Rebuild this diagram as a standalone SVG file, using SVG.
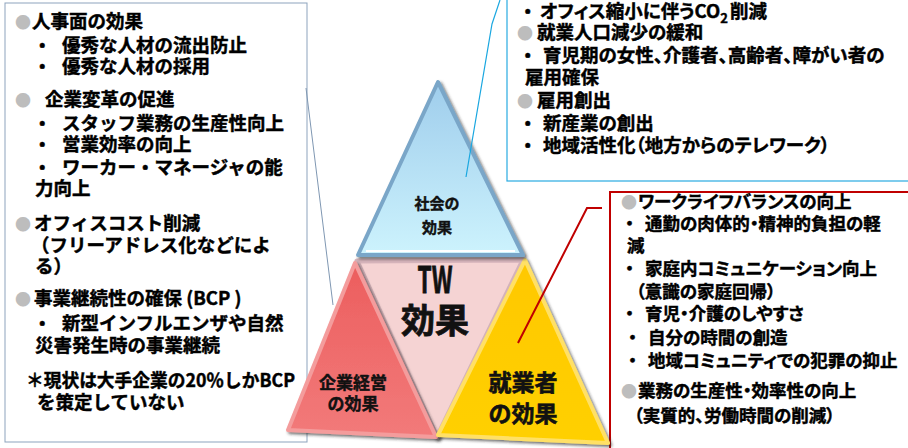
<svg xmlns="http://www.w3.org/2000/svg" width="908" height="448" viewBox="0 0 908 448">
<style>
.t{font-family:"Noto Sans CJK JP","Liberation Sans",sans-serif;font-weight:bold;font-size:18.5px;fill:#000;stroke:#000;stroke-width:0.45px}
.p{font-feature-settings:"palt"}
.s{font-size:17.5px}
.g{fill:#bdbdbd;stroke:none;font-size:16px}
.c{text-anchor:middle;fill:#111;stroke:#111}
.box{fill:#fff}
</style>
<defs>
<filter id="sh" x="-10%" y="-10%" width="130%" height="130%">
<feDropShadow dx="2" dy="2" stdDeviation="1.5" flood-color="#222" flood-opacity="0.65"/>
</filter>
<linearGradient id="gb" x1="0" y1="0" x2="0" y2="1">
<stop offset="0" stop-color="#9fcdec"/><stop offset="1" stop-color="#cdf3fd"/>
</linearGradient>
<linearGradient id="gr" x1="0" y1="0" x2="0" y2="1">
<stop offset="0" stop-color="#ec5e5e"/><stop offset="1" stop-color="#f27a7a"/>
</linearGradient>
<linearGradient id="gy" x1="0" y1="0" x2="0" y2="1">
<stop offset="0" stop-color="#ffc800"/><stop offset="1" stop-color="#ffd000"/>
</linearGradient>
</defs>

<g id="box-company">
<rect class="box" x="5" y="3" width="302" height="439" stroke="#8da3bd" stroke-width="1"/>
<text class="t">
<tspan x="15" y="28" class="g">●</tspan><tspan x="32" y="28">人事面の効果</tspan>
<tspan x="33" y="52">・</tspan><tspan x="62" y="52">優秀な人材の流出防止</tspan>
<tspan x="33" y="73">・</tspan><tspan x="62" y="73">優秀な人材の採用</tspan>
<tspan x="15" y="106" class="g">●</tspan><tspan x="45" y="106">企業変革の促進</tspan>
<tspan x="33" y="130">・</tspan><tspan x="62" y="130">スタッフ業務の生産性向上</tspan>
<tspan x="33" y="151">・</tspan><tspan x="62" y="151">営業効率の向上</tspan>
<tspan x="33" y="174">・</tspan><tspan x="62" y="174">ワーカー・マネージャの能</tspan>
<tspan x="35" y="195">力向上</tspan>
<tspan x="15" y="230" class="g">●</tspan><tspan x="34" y="230">オフィスコスト削減</tspan>
<tspan x="31" y="252">（フリーアドレス化などによ</tspan>
<tspan x="35" y="273">る）</tspan>
<tspan x="15" y="305" class="g">●</tspan><tspan x="34" y="305">事業継続性の確保 (BCP )</tspan>
<tspan x="33" y="330">・</tspan><tspan x="62" y="330">新型インフルエンザや自然</tspan>
<tspan x="35" y="352">災害発生時の事業継続</tspan>
<tspan x="37" y="409">を策定していない</tspan>
</text>
<text class="t" x="26" y="387" textLength="269" lengthAdjust="spacingAndGlyphs">＊現状は大手企業の20％しかBCP</text>
</g>

<g id="box-society">
<rect class="box" x="507" y="-10" width="420" height="191" stroke="#29abe2" stroke-width="1.2"/>
<text class="t p">
<tspan x="523" y="18">・</tspan><tspan x="540" y="18">オフィス縮小に伴うCO</tspan><tspan dy="5" class="g" style="fill:#000;stroke:#000;stroke-width:0.4px;font-size:13px">2</tspan><tspan x="730" y="18">削減</tspan>
<tspan x="517" y="39" class="g">●</tspan><tspan x="537" y="39">就業人口減少の緩和</tspan>
<tspan x="523" y="62">・</tspan><tspan x="543" y="62">育児期の女性、介護者、高齢者、障がい者の</tspan>
<tspan x="525" y="84">雇用確保</tspan>
<tspan x="517" y="107" class="g">●</tspan><tspan x="537" y="107">雇用創出</tspan>
<tspan x="523" y="130">・</tspan><tspan x="543" y="130">新産業の創出</tspan>
<tspan x="523" y="152">・</tspan><tspan x="543" y="152">地域活性化（地方からのテレワーク）</tspan>
</text>
</g>

<g id="box-worker">
<rect class="box" x="610" y="192" width="320" height="280" stroke="#c00000" stroke-width="2"/>
<text class="t p s">
<tspan x="621" y="208" class="g">●</tspan><tspan x="638" y="208">ワークライフバランスの向上</tspan>
<tspan x="625" y="230">・</tspan><tspan x="645" y="230">通勤の肉体的・精神的負担の軽</tspan>
<tspan x="627" y="252">減</tspan>
<tspan x="625" y="275">・</tspan><tspan x="645" y="275">家庭内コミュニケーション向上</tspan>
<tspan x="636" y="298">（意識の家庭回帰）</tspan>
<tspan x="625" y="320">・</tspan><tspan x="645" y="320">育児・介護のしやすさ</tspan>
<tspan x="628" y="344">・</tspan><tspan x="648" y="344">自分の時間の創造</tspan>
<tspan x="628" y="367">・</tspan><tspan x="648" y="367">地域コミュニティでの犯罪の抑止</tspan>
<tspan x="621" y="397" class="g">●</tspan><tspan x="638" y="397">業務の生産性・効率性の向上</tspan>
<tspan x="634" y="422">（実質的、労働時間の削減）</tspan>
</text>
</g>

<g id="tri-center">
<polygon points="357,261 523,260 437,437" fill="#f5d3d3" stroke="#d5b3ba" stroke-width="5" stroke-linejoin="round" filter="url(#sh)"/>
<text class="t c" x="435" y="293" style="font-size:36px;stroke-width:0.8px" textLength="35" lengthAdjust="spacingAndGlyphs">TW</text>
<text class="t c" x="435" y="333" style="font-size:34px;stroke-width:0.8px">効果</text>
</g>

<g id="tri-company">
<polygon points="355,263 436,437 288,430" fill="url(#gr)" stroke="#f49c9c" stroke-width="4" stroke-linejoin="round" filter="url(#sh)"/>
<text class="t c" x="353" y="389" style="font-size:17px">企業経営</text>
<text class="t c" x="353" y="410" style="font-size:17px">の効果</text>
</g>

<g id="tri-worker">
<polygon points="525,260 608,443 438,435" fill="url(#gy)" stroke="#ffe066" stroke-width="4" stroke-linejoin="round" filter="url(#sh)"/>
<text class="t c" x="523" y="391" style="font-size:23px;stroke-width:0.6px">就業者</text>
<text class="t c" x="523" y="422" style="font-size:23px;stroke-width:0.6px">の効果</text>
</g>

<g id="tri-society">
<polygon points="438,82 523,255 358,255" fill="url(#gb)" stroke="#7aa6c8" stroke-width="4" stroke-linejoin="round" filter="url(#sh)"/>
<line x1="366" y1="251" x2="515" y2="251" stroke="#ffffff" stroke-width="2"/>
<text class="t c" x="437" y="209" style="font-size:15px">社会の</text>
<text class="t c" x="437" y="233" style="font-size:15px">効果</text>
</g>

<g id="connectors" fill="none">
<line x1="306" y1="88" x2="333" y2="305" stroke="#7f97b2" stroke-width="1"/>
<polyline points="466,177 492,24 500,0" stroke="#1aa7e0" stroke-width="1.2"/>
<polyline points="518,343 587,208 602,208" stroke="#c00000" stroke-width="2"/>
</g>
</svg>
